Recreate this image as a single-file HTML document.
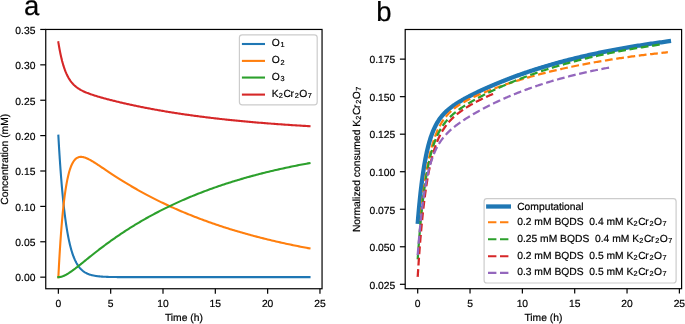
<!DOCTYPE html>
<html><head><meta charset="utf-8"><style>
html,body{margin:0;padding:0;background:#fff;width:685px;height:324px;overflow:hidden}
svg{display:block;will-change:transform}
text{font-family:"Liberation Sans", sans-serif;fill:#000;text-rendering:geometricPrecision;stroke:#000;stroke-width:0.2px}
</style></head><body>
<svg width="685" height="324" viewBox="0 0 685 324">
<rect width="685" height="324" fill="#fff"/>

<text x="24.1" y="15.1" font-size="27.5">a</text>
<text x="376.2" y="21" font-size="27.5">b</text>
<g fill="none" stroke-width="2.1" stroke-linejoin="round" stroke-linecap="square">
<polyline stroke="#1f77b4" points="58.36,135.61 58.37,135.77 58.39,136.16 58.42,136.74 58.47,137.50 58.52,138.43 58.58,139.51 58.65,140.73 58.73,142.09 58.82,143.58 58.91,145.19 59.01,146.91 59.12,148.73 59.24,150.65 59.37,152.66 59.50,154.76 59.64,156.93 59.79,159.17 59.95,161.47 60.11,163.84 60.28,166.25 60.45,168.70 60.64,171.20 60.83,173.72 61.02,176.27 61.23,178.84 61.44,181.43 61.65,184.03 61.88,186.63 62.10,189.23 62.34,191.82 62.58,194.41 62.83,196.98 63.09,199.53 63.35,202.06 63.61,204.57 63.89,207.05 64.17,209.50 64.45,211.91 64.74,214.28 65.04,216.62 65.34,218.91 65.65,221.16 65.97,223.36 66.29,225.51 66.62,227.62 66.95,229.67 67.29,231.68 67.64,233.63 67.99,235.53 68.34,237.37 68.70,239.16 69.07,240.90 69.45,242.58 69.83,244.21 70.21,245.78 70.60,247.30 71.00,248.77 71.40,250.18 71.81,251.55 72.22,252.86 72.64,254.12 73.06,255.33 73.49,256.49 73.93,257.60 74.37,258.66 74.81,259.68 75.27,260.66 75.72,261.59 76.18,262.48 76.65,263.33 77.13,264.13 77.60,264.90 78.09,265.63 78.58,266.33 79.07,266.99 79.57,267.61 80.08,268.21 80.59,268.77 81.10,269.30 81.62,269.81 82.15,270.28 82.68,270.73 83.22,271.15 83.76,271.55 84.30,271.93 84.86,272.29 85.41,272.62 85.98,272.93 86.54,273.23 87.12,273.50 87.69,273.76 88.28,274.00 88.86,274.23 89.46,274.44 90.06,274.64 90.66,274.83 91.27,275.00 91.88,275.16 92.50,275.31 93.12,275.46 93.75,275.59 94.38,275.71 95.02,275.82 95.66,275.93 96.31,276.02 96.96,276.11 97.62,276.20 98.29,276.28 98.95,276.35 99.63,276.41 100.30,276.48 100.99,276.53 101.67,276.59 102.37,276.63 103.06,276.68 103.77,276.72 104.47,276.76 105.19,276.79 105.90,276.82 106.62,276.85 107.35,276.88 108.08,276.91 108.82,276.93 109.56,276.95 110.30,276.97 111.05,276.99 111.81,277.00 112.57,277.02 113.33,277.03 114.10,277.04 114.88,277.05 115.66,277.06 116.44,277.07 117.23,277.08 118.02,277.09 118.82,277.10 119.62,277.10 120.43,277.11 121.24,277.11 122.06,277.12 122.88,277.12 123.70,277.13 124.54,277.13 125.37,277.13 126.21,277.13 127.06,277.14 127.90,277.14 128.76,277.14 129.62,277.14 130.48,277.15 131.35,277.15 132.22,277.15 133.10,277.15 133.98,277.15 134.86,277.15 135.76,277.15 136.65,277.15 137.55,277.15 138.46,277.15 139.36,277.16 140.28,277.16 141.20,277.16 142.12,277.16 143.05,277.16 143.98,277.16 144.91,277.16 145.85,277.16 146.80,277.16 147.75,277.16 148.70,277.16 149.66,277.16 150.63,277.16 151.59,277.16 152.57,277.16 153.54,277.16 154.52,277.16 155.51,277.16 156.50,277.16 157.49,277.16 158.49,277.16 159.50,277.16 160.51,277.16 161.52,277.16 162.53,277.16 163.56,277.16 164.58,277.16 165.61,277.16 166.65,277.16 167.69,277.16 168.73,277.16 169.78,277.16 170.83,277.16 171.89,277.16 172.95,277.16 174.01,277.16 175.08,277.16 176.16,277.16 177.23,277.16 178.32,277.16 179.40,277.16 180.50,277.16 181.59,277.16 182.69,277.16 183.80,277.16 184.91,277.16 186.02,277.16 187.14,277.16 188.26,277.16 189.38,277.16 190.52,277.16 191.65,277.16 192.79,277.16 193.93,277.16 195.08,277.16 196.23,277.16 197.39,277.16 198.55,277.16 199.72,277.16 200.88,277.16 202.06,277.16 203.24,277.16 204.42,277.16 205.60,277.16 206.80,277.16 207.99,277.16 209.19,277.16 210.39,277.16 211.60,277.16 212.81,277.16 214.03,277.16 215.25,277.16 216.47,277.16 217.70,277.16 218.94,277.16 220.17,277.16 221.41,277.16 222.66,277.16 223.91,277.16 225.16,277.16 226.42,277.16 227.69,277.16 228.95,277.16 230.22,277.16 231.50,277.16 232.78,277.16 234.06,277.16 235.35,277.16 236.64,277.16 237.94,277.16 239.24,277.16 240.54,277.16 241.85,277.16 243.16,277.16 244.48,277.16 245.80,277.16 247.13,277.16 248.45,277.16 249.79,277.16 251.13,277.16 252.47,277.16 253.81,277.16 255.16,277.16 256.52,277.16 257.88,277.16 259.24,277.16 260.60,277.16 261.98,277.16 263.35,277.16 264.73,277.16 266.11,277.16 267.50,277.16 268.89,277.16 270.29,277.16 271.68,277.16 273.09,277.16 274.50,277.16 275.91,277.16 277.32,277.16 278.74,277.16 280.17,277.16 281.59,277.16 283.03,277.16 284.46,277.16 285.90,277.16 287.35,277.16 288.80,277.16 290.25,277.16 291.70,277.16 293.16,277.16 294.63,277.16 296.10,277.16 297.57,277.16 299.05,277.16 300.53,277.16 302.01,277.16 303.50,277.16 304.99,277.16 306.49,277.16 307.99,277.16 309.50,277.16"/>
<polyline stroke="#ff7f0e" points="58.36,277.16 58.37,276.99 58.39,276.55 58.42,275.90 58.47,275.06 58.52,274.03 58.58,272.83 58.65,271.48 58.73,269.97 58.82,268.33 58.91,266.57 59.01,264.68 59.12,262.68 59.24,260.58 59.37,258.39 59.50,256.12 59.64,253.77 59.79,251.35 59.95,248.88 60.11,246.35 60.28,243.79 60.45,241.18 60.64,238.55 60.83,235.90 61.02,233.23 61.23,230.56 61.44,227.88 61.65,225.21 61.88,222.55 62.10,219.91 62.34,217.30 62.58,214.70 62.83,212.14 63.09,209.62 63.35,207.14 63.61,204.70 63.89,202.31 64.17,199.97 64.45,197.69 64.74,195.46 65.04,193.29 65.34,191.18 65.65,189.13 65.97,187.15 66.29,185.24 66.62,183.39 66.95,181.61 67.29,179.89 67.64,178.25 67.99,176.67 68.34,175.16 68.70,173.72 69.07,172.35 69.45,171.04 69.83,169.81 70.21,168.63 70.60,167.53 71.00,166.49 71.40,165.51 71.81,164.59 72.22,163.73 72.64,162.93 73.06,162.19 73.49,161.50 73.93,160.87 74.37,160.30 74.81,159.77 75.27,159.29 75.72,158.86 76.18,158.48 76.65,158.15 77.13,157.85 77.60,157.60 78.09,157.39 78.58,157.21 79.07,157.08 79.57,156.97 80.08,156.90 80.59,156.87 81.10,156.86 81.62,156.89 82.15,156.94 82.68,157.02 83.22,157.12 83.76,157.25 84.30,157.40 84.86,157.58 85.41,157.77 85.98,157.98 86.54,158.21 87.12,158.46 87.69,158.73 88.28,159.01 88.86,159.31 89.46,159.61 90.06,159.94 90.66,160.27 91.27,160.62 91.88,160.98 92.50,161.35 93.12,161.72 93.75,162.11 94.38,162.51 95.02,162.91 95.66,163.32 96.31,163.74 96.96,164.16 97.62,164.59 98.29,165.03 98.95,165.47 99.63,165.92 100.30,166.37 100.99,166.83 101.67,167.29 102.37,167.75 103.06,168.22 103.77,168.69 104.47,169.17 105.19,169.65 105.90,170.13 106.62,170.61 107.35,171.09 108.08,171.58 108.82,172.07 109.56,172.56 110.30,173.06 111.05,173.55 111.81,174.05 112.57,174.55 113.33,175.05 114.10,175.55 114.88,176.05 115.66,176.55 116.44,177.06 117.23,177.56 118.02,178.07 118.82,178.57 119.62,179.08 120.43,179.59 121.24,180.10 122.06,180.61 122.88,181.12 123.70,181.63 124.54,182.14 125.37,182.65 126.21,183.16 127.06,183.67 127.90,184.18 128.76,184.69 129.62,185.20 130.48,185.71 131.35,186.22 132.22,186.73 133.10,187.24 133.98,187.75 134.86,188.26 135.76,188.77 136.65,189.28 137.55,189.79 138.46,190.30 139.36,190.81 140.28,191.31 141.20,191.82 142.12,192.33 143.05,192.84 143.98,193.34 144.91,193.85 145.85,194.35 146.80,194.85 147.75,195.36 148.70,195.86 149.66,196.36 150.63,196.86 151.59,197.36 152.57,197.86 153.54,198.36 154.52,198.86 155.51,199.36 156.50,199.85 157.49,200.35 158.49,200.84 159.50,201.34 160.51,201.83 161.52,202.32 162.53,202.81 163.56,203.30 164.58,203.78 165.61,204.27 166.65,204.76 167.69,205.24 168.73,205.72 169.78,206.21 170.83,206.69 171.89,207.17 172.95,207.64 174.01,208.12 175.08,208.60 176.16,209.07 177.23,209.54 178.32,210.01 179.40,210.48 180.50,210.95 181.59,211.42 182.69,211.88 183.80,212.35 184.91,212.81 186.02,213.27 187.14,213.73 188.26,214.19 189.38,214.65 190.52,215.10 191.65,215.55 192.79,216.01 193.93,216.46 195.08,216.90 196.23,217.35 197.39,217.80 198.55,218.24 199.72,218.68 200.88,219.12 202.06,219.56 203.24,220.00 204.42,220.43 205.60,220.86 206.80,221.30 207.99,221.72 209.19,222.15 210.39,222.58 211.60,223.00 212.81,223.42 214.03,223.85 215.25,224.26 216.47,224.68 217.70,225.10 218.94,225.51 220.17,225.92 221.41,226.33 222.66,226.74 223.91,227.14 225.16,227.55 226.42,227.95 227.69,228.35 228.95,228.74 230.22,229.14 231.50,229.53 232.78,229.93 234.06,230.32 235.35,230.70 236.64,231.09 237.94,231.47 239.24,231.86 240.54,232.24 241.85,232.61 243.16,232.99 244.48,233.36 245.80,233.74 247.13,234.11 248.45,234.47 249.79,234.84 251.13,235.20 252.47,235.57 253.81,235.93 255.16,236.28 256.52,236.64 257.88,236.99 259.24,237.35 260.60,237.70 261.98,238.04 263.35,238.39 264.73,238.73 266.11,239.08 267.50,239.42 268.89,239.75 270.29,240.09 271.68,240.42 273.09,240.75 274.50,241.08 275.91,241.41 277.32,241.74 278.74,242.06 280.17,242.38 281.59,242.70 283.03,243.02 284.46,243.33 285.90,243.65 287.35,243.96 288.80,244.27 290.25,244.57 291.70,244.88 293.16,245.18 294.63,245.48 296.10,245.78 297.57,246.08 299.05,246.37 300.53,246.67 302.01,246.96 303.50,247.25 304.99,247.53 306.49,247.82 307.99,248.10 309.50,248.38"/>
<polyline stroke="#2ca02c" points="58.36,277.16 58.37,277.16 58.39,277.16 58.42,277.16 58.47,277.16 58.52,277.16 58.58,277.16 58.65,277.16 58.73,277.15 58.82,277.15 58.91,277.14 59.01,277.14 59.12,277.13 59.24,277.12 59.37,277.11 59.50,277.09 59.64,277.07 59.79,277.05 59.95,277.03 60.11,277.00 60.28,276.97 60.45,276.94 60.64,276.90 60.83,276.86 61.02,276.81 61.23,276.76 61.44,276.70 61.65,276.64 61.88,276.57 62.10,276.50 62.34,276.42 62.58,276.33 62.83,276.24 63.09,276.14 63.35,276.04 63.61,275.93 63.89,275.81 64.17,275.69 64.45,275.55 64.74,275.42 65.04,275.27 65.34,275.12 65.65,274.95 65.97,274.79 66.29,274.61 66.62,274.43 66.95,274.23 67.29,274.04 67.64,273.83 67.99,273.62 68.34,273.39 68.70,273.16 69.07,272.93 69.45,272.68 69.83,272.43 70.21,272.17 70.60,271.90 71.00,271.63 71.40,271.35 71.81,271.06 72.22,270.76 72.64,270.46 73.06,270.15 73.49,269.83 73.93,269.51 74.37,269.18 74.81,268.84 75.27,268.50 75.72,268.15 76.18,267.79 76.65,267.43 77.13,267.06 77.60,266.68 78.09,266.30 78.58,265.92 79.07,265.52 79.57,265.13 80.08,264.72 80.59,264.32 81.10,263.90 81.62,263.48 82.15,263.06 82.68,262.63 83.22,262.20 83.76,261.76 84.30,261.32 84.86,260.88 85.41,260.43 85.98,259.97 86.54,259.52 87.12,259.05 87.69,258.59 88.28,258.12 88.86,257.65 89.46,257.17 90.06,256.69 90.66,256.21 91.27,255.73 91.88,255.24 92.50,254.75 93.12,254.25 93.75,253.76 94.38,253.26 95.02,252.76 95.66,252.25 96.31,251.75 96.96,251.24 97.62,250.73 98.29,250.21 98.95,249.70 99.63,249.18 100.30,248.66 100.99,248.14 101.67,247.62 102.37,247.10 103.06,246.57 103.77,246.05 104.47,245.52 105.19,244.99 105.90,244.46 106.62,243.93 107.35,243.40 108.08,242.86 108.82,242.33 109.56,241.79 110.30,241.25 111.05,240.72 111.81,240.18 112.57,239.64 113.33,239.10 114.10,238.56 114.88,238.02 115.66,237.48 116.44,236.93 117.23,236.39 118.02,235.85 118.82,235.30 119.62,234.76 120.43,234.22 121.24,233.67 122.06,233.13 122.88,232.58 123.70,232.04 124.54,231.50 125.37,230.95 126.21,230.41 127.06,229.86 127.90,229.32 128.76,228.78 129.62,228.23 130.48,227.69 131.35,227.15 132.22,226.60 133.10,226.06 133.98,225.52 134.86,224.98 135.76,224.44 136.65,223.90 137.55,223.36 138.46,222.82 139.36,222.28 140.28,221.74 141.20,221.21 142.12,220.67 143.05,220.14 143.98,219.60 144.91,219.07 145.85,218.53 146.80,218.00 147.75,217.47 148.70,216.94 149.66,216.41 150.63,215.88 151.59,215.36 152.57,214.83 153.54,214.31 154.52,213.78 155.51,213.26 156.50,212.74 157.49,212.22 158.49,211.70 159.50,211.18 160.51,210.66 161.52,210.15 162.53,209.64 163.56,209.12 164.58,208.61 165.61,208.10 166.65,207.59 167.69,207.09 168.73,206.58 169.78,206.08 170.83,205.58 171.89,205.08 172.95,204.58 174.01,204.08 175.08,203.58 176.16,203.09 177.23,202.60 178.32,202.11 179.40,201.62 180.50,201.13 181.59,200.65 182.69,200.16 183.80,199.68 184.91,199.20 186.02,198.72 187.14,198.24 188.26,197.77 189.38,197.30 190.52,196.82 191.65,196.35 192.79,195.89 193.93,195.42 195.08,194.96 196.23,194.50 197.39,194.04 198.55,193.58 199.72,193.12 200.88,192.67 202.06,192.22 203.24,191.77 204.42,191.32 205.60,190.87 206.80,190.43 207.99,189.99 209.19,189.55 210.39,189.11 211.60,188.68 212.81,188.24 214.03,187.81 215.25,187.38 216.47,186.95 217.70,186.53 218.94,186.11 220.17,185.69 221.41,185.27 222.66,184.85 223.91,184.44 225.16,184.02 226.42,183.62 227.69,183.21 228.95,182.80 230.22,182.40 231.50,182.00 232.78,181.60 234.06,181.20 235.35,180.81 236.64,180.42 237.94,180.03 239.24,179.64 240.54,179.25 241.85,178.87 243.16,178.49 244.48,178.11 245.80,177.73 247.13,177.36 248.45,176.99 249.79,176.62 251.13,176.25 252.47,175.88 253.81,175.52 255.16,175.16 256.52,174.80 257.88,174.45 259.24,174.09 260.60,173.74 261.98,173.39 263.35,173.04 264.73,172.70 266.11,172.35 267.50,172.01 268.89,171.68 270.29,171.34 271.68,171.01 273.09,170.67 274.50,170.34 275.91,170.02 277.32,169.69 278.74,169.37 280.17,169.05 281.59,168.73 283.03,168.41 284.46,168.10 285.90,167.79 287.35,167.48 288.80,167.17 290.25,166.87 291.70,166.57 293.16,166.26 294.63,165.97 296.10,165.67 297.57,165.38 299.05,165.08 300.53,164.79 302.01,164.51 303.50,164.22 304.99,163.94 306.49,163.66 307.99,163.38 309.50,163.10"/>
<polyline stroke="#d62728" points="58.36,42.29 58.37,42.34 58.39,42.48 58.42,42.68 58.47,42.95 58.52,43.28 58.58,43.65 58.65,44.08 58.73,44.56 58.82,45.08 58.91,45.64 59.01,46.24 59.12,46.88 59.24,47.55 59.37,48.26 59.50,48.99 59.64,49.74 59.79,50.52 59.95,51.32 60.11,52.14 60.28,52.98 60.45,53.83 60.64,54.70 60.83,55.57 61.02,56.45 61.23,57.34 61.44,58.23 61.65,59.13 61.88,60.02 62.10,60.92 62.34,61.81 62.58,62.70 62.83,63.58 63.09,64.46 63.35,65.33 63.61,66.19 63.89,67.04 64.17,67.88 64.45,68.71 64.74,69.52 65.04,70.32 65.34,71.11 65.65,71.89 65.97,72.64 66.29,73.39 66.62,74.11 66.95,74.83 67.29,75.52 67.64,76.20 67.99,76.86 68.34,77.51 68.70,78.14 69.07,78.75 69.45,79.35 69.83,79.93 70.21,80.49 70.60,81.04 71.00,81.57 71.40,82.09 71.81,82.59 72.22,83.08 72.64,83.56 73.06,84.02 73.49,84.46 73.93,84.90 74.37,85.32 74.81,85.72 75.27,86.12 75.72,86.50 76.18,86.88 76.65,87.24 77.13,87.59 77.60,87.94 78.09,88.27 78.58,88.59 79.07,88.91 79.57,89.22 80.08,89.52 80.59,89.81 81.10,90.10 81.62,90.38 82.15,90.65 82.68,90.92 83.22,91.18 83.76,91.43 84.30,91.68 84.86,91.93 85.41,92.17 85.98,92.41 86.54,92.65 87.12,92.88 87.69,93.10 88.28,93.33 88.86,93.55 89.46,93.77 90.06,93.99 90.66,94.20 91.27,94.41 91.88,94.62 92.50,94.83 93.12,95.04 93.75,95.24 94.38,95.44 95.02,95.65 95.66,95.85 96.31,96.05 96.96,96.25 97.62,96.45 98.29,96.64 98.95,96.84 99.63,97.04 100.30,97.23 100.99,97.43 101.67,97.62 102.37,97.82 103.06,98.01 103.77,98.20 104.47,98.40 105.19,98.59 105.90,98.78 106.62,98.98 107.35,99.17 108.08,99.36 108.82,99.55 109.56,99.74 110.30,99.94 111.05,100.13 111.81,100.32 112.57,100.51 113.33,100.70 114.10,100.89 114.88,101.09 115.66,101.28 116.44,101.47 117.23,101.66 118.02,101.85 118.82,102.04 119.62,102.23 120.43,102.42 121.24,102.61 122.06,102.80 122.88,102.99 123.70,103.18 124.54,103.37 125.37,103.56 126.21,103.75 127.06,103.94 127.90,104.13 128.76,104.32 129.62,104.51 130.48,104.70 131.35,104.88 132.22,105.07 133.10,105.26 133.98,105.45 134.86,105.64 135.76,105.82 136.65,106.01 137.55,106.20 138.46,106.38 139.36,106.57 140.28,106.75 141.20,106.94 142.12,107.12 143.05,107.31 143.98,107.49 144.91,107.67 145.85,107.86 146.80,108.04 147.75,108.22 148.70,108.40 149.66,108.59 150.63,108.77 151.59,108.95 152.57,109.13 153.54,109.31 154.52,109.49 155.51,109.66 156.50,109.84 157.49,110.02 158.49,110.20 159.50,110.37 160.51,110.55 161.52,110.72 162.53,110.90 163.56,111.07 164.58,111.25 165.61,111.42 166.65,111.59 167.69,111.76 168.73,111.94 169.78,112.11 170.83,112.28 171.89,112.45 172.95,112.61 174.01,112.78 175.08,112.95 176.16,113.12 177.23,113.28 178.32,113.45 179.40,113.61 180.50,113.78 181.59,113.94 182.69,114.10 183.80,114.27 184.91,114.43 186.02,114.59 187.14,114.75 188.26,114.91 189.38,115.06 190.52,115.22 191.65,115.38 192.79,115.54 193.93,115.69 195.08,115.85 196.23,116.00 197.39,116.15 198.55,116.31 199.72,116.46 200.88,116.61 202.06,116.76 203.24,116.91 204.42,117.06 205.60,117.21 206.80,117.35 207.99,117.50 209.19,117.64 210.39,117.79 211.60,117.93 212.81,118.08 214.03,118.22 215.25,118.36 216.47,118.50 217.70,118.64 218.94,118.78 220.17,118.92 221.41,119.06 222.66,119.19 223.91,119.33 225.16,119.46 226.42,119.60 227.69,119.73 228.95,119.87 230.22,120.00 231.50,120.13 232.78,120.26 234.06,120.39 235.35,120.52 236.64,120.64 237.94,120.77 239.24,120.90 240.54,121.02 241.85,121.15 243.16,121.27 244.48,121.39 245.80,121.52 247.13,121.64 248.45,121.76 249.79,121.88 251.13,122.00 252.47,122.11 253.81,122.23 255.16,122.35 256.52,122.46 257.88,122.58 259.24,122.69 260.60,122.81 261.98,122.92 263.35,123.03 264.73,123.14 266.11,123.25 267.50,123.36 268.89,123.47 270.29,123.57 271.68,123.68 273.09,123.79 274.50,123.89 275.91,124.00 277.32,124.10 278.74,124.20 280.17,124.30 281.59,124.41 283.03,124.51 284.46,124.61 285.90,124.70 287.35,124.80 288.80,124.90 290.25,125.00 291.70,125.09 293.16,125.19 294.63,125.28 296.10,125.37 297.57,125.47 299.05,125.56 300.53,125.65 302.01,125.74 303.50,125.83 304.99,125.92 306.49,126.01 307.99,126.09 309.50,126.18"/>
</g>
<rect x="45.75" y="29.45" width="276.30" height="259.30" fill="none" stroke="#000" stroke-width="1.2"/>
<line x1="58.36" y1="288.75" x2="58.36" y2="293.65" stroke="#000" stroke-width="1.2"/>
<text x="58.36" y="306.6" font-size="10.3" text-anchor="middle">0</text>
<line x1="110.68" y1="288.75" x2="110.68" y2="293.65" stroke="#000" stroke-width="1.2"/>
<text x="110.68" y="306.6" font-size="10.3" text-anchor="middle">5</text>
<line x1="163.00" y1="288.75" x2="163.00" y2="293.65" stroke="#000" stroke-width="1.2"/>
<text x="163.00" y="306.6" font-size="10.3" text-anchor="middle">10</text>
<line x1="215.32" y1="288.75" x2="215.32" y2="293.65" stroke="#000" stroke-width="1.2"/>
<text x="215.32" y="306.6" font-size="10.3" text-anchor="middle">15</text>
<line x1="267.64" y1="288.75" x2="267.64" y2="293.65" stroke="#000" stroke-width="1.2"/>
<text x="267.64" y="306.6" font-size="10.3" text-anchor="middle">20</text>
<line x1="319.96" y1="288.75" x2="319.96" y2="293.65" stroke="#000" stroke-width="1.2"/>
<text x="319.96" y="306.6" font-size="10.3" text-anchor="middle">25</text>
<line x1="40.25" y1="277.16" x2="45.75" y2="277.16" stroke="#000" stroke-width="1.2"/>
<text x="35.4" y="281" font-size="10.3" text-anchor="end">0.00</text>
<line x1="40.25" y1="241.77" x2="45.75" y2="241.77" stroke="#000" stroke-width="1.2"/>
<text x="35.4" y="246" font-size="10.3" text-anchor="end">0.05</text>
<line x1="40.25" y1="206.39" x2="45.75" y2="206.39" stroke="#000" stroke-width="1.2"/>
<text x="35.4" y="211" font-size="10.3" text-anchor="end">0.10</text>
<line x1="40.25" y1="171.00" x2="45.75" y2="171.00" stroke="#000" stroke-width="1.2"/>
<text x="35.4" y="175" font-size="10.3" text-anchor="end">0.15</text>
<line x1="40.25" y1="135.61" x2="45.75" y2="135.61" stroke="#000" stroke-width="1.2"/>
<text x="35.4" y="140" font-size="10.3" text-anchor="end">0.20</text>
<line x1="40.25" y1="100.23" x2="45.75" y2="100.23" stroke="#000" stroke-width="1.2"/>
<text x="35.4" y="105" font-size="10.3" text-anchor="end">0.25</text>
<line x1="40.25" y1="64.84" x2="45.75" y2="64.84" stroke="#000" stroke-width="1.2"/>
<text x="35.4" y="69" font-size="10.3" text-anchor="end">0.30</text>
<line x1="40.25" y1="29.45" x2="45.75" y2="29.45" stroke="#000" stroke-width="1.2"/>
<text x="35.4" y="34" font-size="10.3" text-anchor="end">0.35</text>
<text x="183.90" y="321.4" font-size="10.3" text-anchor="middle">Time (h)</text>
<text transform="translate(7.6,159.3) rotate(-90)" font-size="10.3" text-anchor="middle">Concentration (mM)</text>
<rect x="239.4" y="34.8" width="77.8" height="70" rx="2.8" fill="#fff" fill-opacity="0.8" stroke="#cccccc" stroke-width="1.2"/>
<line x1="241.9" y1="44.0" x2="265.0" y2="44.0" stroke="#1f77b4" stroke-width="2.1"/>
<line x1="241.9" y1="60.9" x2="265.0" y2="60.9" stroke="#ff7f0e" stroke-width="2.1"/>
<line x1="241.9" y1="77.55" x2="265.0" y2="77.55" stroke="#2ca02c" stroke-width="2.1"/>
<line x1="241.9" y1="94.6" x2="265.0" y2="94.6" stroke="#d62728" stroke-width="2.1"/>
<text font-size="10.3"><tspan x="271.80" y="46.00">O</tspan><tspan x="280.50" y="47.40" font-size="7.3">1</tspan></text>
<text font-size="10.3"><tspan x="271.80" y="63.00">O</tspan><tspan x="280.50" y="64.60" font-size="7.3">2</tspan></text>
<text font-size="10.3"><tspan x="271.80" y="80.00">O</tspan><tspan x="280.50" y="81.30" font-size="7.3">3</tspan></text>
<text font-size="10.3"><tspan x="271.80" y="97.00">K</tspan><tspan x="278.78" y="98.40" font-size="7.3">2</tspan><tspan x="283.58" y="97.00">C</tspan><tspan x="290.62" y="97.00">r</tspan><tspan x="294.73" y="98.40" font-size="7.3">2</tspan><tspan x="299.31" y="97.00">O</tspan><tspan x="307.87" y="98.40" font-size="7.3">7</tspan></text>
<polyline fill="none" stroke="#1f77b4" stroke-width="4.3" stroke-linejoin="round" stroke-linecap="square" points="417.85,221.78 417.86,221.67 417.88,221.40 417.91,221.00 417.95,220.47 418.00,219.83 418.07,219.09 418.14,218.24 418.22,217.30 418.30,216.27 418.40,215.16 418.50,213.96 418.61,212.70 418.73,211.36 418.86,209.96 418.99,208.50 419.13,206.98 419.28,205.41 419.43,203.80 419.60,202.14 419.76,200.44 419.94,198.71 420.12,196.95 420.31,195.16 420.51,193.34 420.71,191.51 420.92,189.67 421.14,187.81 421.36,185.94 421.59,184.07 421.83,182.19 422.07,180.32 422.32,178.45 422.57,176.58 422.83,174.72 423.10,172.88 423.37,171.05 423.65,169.23 423.94,167.43 424.23,165.65 424.52,163.89 424.83,162.16 425.14,160.45 425.45,158.76 425.77,157.10 426.10,155.47 426.44,153.86 426.77,152.29 427.12,150.74 427.47,149.23 427.83,147.75 428.19,146.30 428.56,144.88 428.93,143.49 429.31,142.14 429.69,140.81 430.08,139.52 430.48,138.26 430.88,137.04 431.29,135.84 431.70,134.68 432.12,133.54 432.54,132.44 432.97,131.36 433.41,130.32 433.85,129.30 434.30,128.31 434.75,127.35 435.20,126.41 435.67,125.51 436.13,124.62 436.61,123.76 437.08,122.93 437.57,122.11 438.06,121.32 438.55,120.55 439.05,119.80 439.56,119.08 440.07,118.37 440.58,117.68 441.10,117.00 441.63,116.35 442.16,115.71 442.70,115.08 443.24,114.47 443.78,113.88 444.34,113.30 444.89,112.73 445.45,112.17 446.02,111.62 446.59,111.09 447.17,110.57 447.75,110.05 448.34,109.55 448.93,109.05 449.53,108.56 450.14,108.08 450.74,107.61 451.36,107.14 451.97,106.68 452.60,106.23 453.23,105.78 453.86,105.34 454.50,104.90 455.14,104.47 455.79,104.04 456.44,103.62 457.10,103.20 457.76,102.78 458.43,102.37 459.10,101.95 459.78,101.55 460.46,101.14 461.15,100.74 461.84,100.34 462.54,99.94 463.24,99.54 463.95,99.14 464.66,98.75 465.37,98.35 466.10,97.96 466.82,97.57 467.55,97.18 468.29,96.79 469.03,96.41 469.77,96.02 470.52,95.63 471.28,95.25 472.04,94.86 472.80,94.48 473.57,94.09 474.35,93.71 475.13,93.33 475.91,92.95 476.70,92.56 477.49,92.18 478.29,91.80 479.09,91.42 479.90,91.04 480.71,90.66 481.52,90.28 482.35,89.90 483.17,89.52 484.00,89.14 484.84,88.76 485.68,88.38 486.52,88.00 487.37,87.63 488.22,87.25 489.08,86.87 489.95,86.49 490.81,86.12 491.68,85.74 492.56,85.36 493.44,84.99 494.33,84.61 495.22,84.24 496.11,83.86 497.01,83.49 497.92,83.11 498.83,82.74 499.74,82.37 500.66,81.99 501.58,81.62 502.51,81.25 503.44,80.88 504.37,80.51 505.31,80.14 506.26,79.77 507.21,79.40 508.16,79.03 509.12,78.67 510.09,78.30 511.05,77.93 512.02,77.57 513.00,77.20 513.98,76.84 514.97,76.48 515.96,76.11 516.95,75.75 517.95,75.39 518.95,75.03 519.96,74.67 520.97,74.32 521.99,73.96 523.01,73.60 524.04,73.25 525.07,72.89 526.10,72.54 527.14,72.19 528.18,71.83 529.23,71.48 530.28,71.13 531.34,70.79 532.40,70.44 533.46,70.09 534.53,69.75 535.61,69.40 536.69,69.06 537.77,68.72 538.86,68.37 539.95,68.03 541.04,67.70 542.14,67.36 543.25,67.02 544.35,66.69 545.47,66.35 546.59,66.02 547.71,65.69 548.83,65.36 549.96,65.03 551.10,64.70 552.24,64.37 553.38,64.05 554.53,63.72 555.68,63.40 556.83,63.08 558.00,62.76 559.16,62.44 560.33,62.12 561.50,61.81 562.68,61.49 563.86,61.18 565.05,60.87 566.24,60.56 567.43,60.25 568.63,59.94 569.83,59.63 571.04,59.33 572.25,59.02 573.47,58.72 574.69,58.42 575.91,58.12 577.14,57.82 578.37,57.52 579.61,57.23 580.85,56.94 582.10,56.64 583.35,56.35 584.60,56.06 585.86,55.77 587.12,55.49 588.39,55.20 589.66,54.92 590.93,54.64 592.21,54.36 593.50,54.08 594.78,53.80 596.07,53.52 597.37,53.25 598.67,52.98 599.97,52.71 601.28,52.44 602.59,52.17 603.91,51.90 605.23,51.63 606.56,51.37 607.88,51.11 609.22,50.85 610.56,50.59 611.90,50.33 613.24,50.07 614.59,49.82 615.95,49.57 617.30,49.31 618.67,49.06 620.03,48.82 621.40,48.57 622.78,48.32 624.15,48.08 625.54,47.84 626.92,47.60 628.31,47.36 629.71,47.12 631.11,46.88 632.51,46.65 633.92,46.41 635.33,46.18 636.74,45.95 638.16,45.72 639.59,45.50 641.02,45.27 642.45,45.05 643.88,44.82 645.32,44.60 646.77,44.38 648.21,44.16 649.67,43.95 651.12,43.73 652.58,43.52 654.05,43.31 655.51,43.10 656.99,42.89 658.46,42.68 659.94,42.47 661.43,42.27 662.91,42.07 664.41,41.87 665.90,41.66 667.40,41.47 668.91,41.27"/>
<g fill="none" stroke-width="2.25" stroke-dasharray="7.8,3.6" stroke-linejoin="round">
<polyline stroke="#ff7f0e" points="420.84,214.98 420.85,214.90 420.87,214.68 420.90,214.36 420.94,213.94 421.00,213.43 421.06,212.84 421.13,212.16 421.20,211.40 421.29,210.58 421.38,209.68 421.48,208.72 421.59,207.70 421.71,206.62 421.83,205.48 421.96,204.29 422.10,203.05 422.25,201.77 422.40,200.44 422.56,199.08 422.73,197.67 422.90,196.24 423.08,194.77 423.27,193.28 423.46,191.76 423.66,190.22 423.87,188.66 424.08,187.08 424.30,185.49 424.52,183.88 424.76,182.27 424.99,180.65 425.24,179.03 425.49,177.40 425.74,175.77 426.01,174.15 426.28,172.53 426.55,170.91 426.83,169.30 427.12,167.70 427.41,166.11 427.71,164.53 428.01,162.96 428.32,161.41 428.64,159.88 428.96,158.36 429.29,156.86 429.62,155.38 429.96,153.92 430.31,152.48 430.66,151.06 431.02,149.66 431.38,148.28 431.74,146.93 432.12,145.61 432.50,144.30 432.88,143.02 433.27,141.77 433.67,140.54 434.07,139.33 434.47,138.15 434.88,136.99 435.30,135.86 435.72,134.75 436.15,133.67 436.59,132.61 437.02,131.58 437.47,130.57 437.92,129.58 438.37,128.62 438.83,127.68 439.30,126.76 439.77,125.87 440.24,124.99 440.73,124.14 441.21,123.31 441.70,122.50 442.20,121.71 442.70,120.94 443.21,120.18 443.72,119.45 444.24,118.73 444.76,118.03 445.29,117.35 445.82,116.69 446.36,116.04 446.90,115.40 447.45,114.78 448.00,114.17 448.56,113.58 449.12,113.00 449.69,112.44 450.27,111.88 450.84,111.34 451.43,110.81 452.02,110.29 452.61,109.78 453.21,109.28 453.81,108.79 454.42,108.31 455.03,107.83 455.65,107.37 456.27,106.91 456.90,106.46 457.53,106.02 458.17,105.59 458.81,105.16 459.46,104.74 460.11,104.32 460.77,103.91 461.43,103.50 462.10,103.10 462.77,102.70 463.44,102.31 464.13,101.93 464.81,101.54 465.50,101.16 466.20,100.78 466.90,100.41 467.60,100.04 468.31,99.68 469.03,99.31 469.75,98.95 470.47,98.59 471.20,98.23 471.93,97.88 472.67,97.53 473.41,97.18 474.16,96.83 474.91,96.48 475.67,96.14 476.43,95.79 477.20,95.45 477.97,95.11 478.74,94.77 479.52,94.43 480.31,94.10 481.10,93.76 481.89,93.43 482.69,93.09 483.49,92.76 484.30,92.43 485.11,92.10 485.93,91.77 486.75,91.44 487.58,91.11 488.41,90.78 489.24,90.45 490.08,90.13 490.93,89.80 491.78,89.48 492.63,89.15 493.49,88.83 494.35,88.51 495.22,88.19 496.09,87.87 496.97,87.55 497.85,87.23 498.73,86.91 499.62,86.59 500.52,86.27 501.42,85.95 502.32,85.64 503.23,85.32 504.14,85.01 505.05,84.69 505.98,84.38 506.90,84.06 507.83,83.75 508.77,83.44 509.70,83.13 510.65,82.82 511.59,82.51 512.55,82.20 513.50,81.89 514.46,81.59 515.43,81.28 516.40,80.98 517.37,80.67 518.35,80.37 519.33,80.06 520.32,79.76 521.31,79.46 522.31,79.16 523.31,78.86 524.31,78.56 525.32,78.27 526.33,77.97 527.35,77.67 528.37,77.38 529.40,77.09 530.43,76.79 531.47,76.50 532.51,76.21 533.55,75.92 534.60,75.63 535.65,75.34 536.71,75.06 537.77,74.77 538.83,74.49 539.90,74.20 540.97,73.92 542.05,73.64 543.14,73.36 544.22,73.08 545.31,72.80 546.41,72.53 547.51,72.25 548.61,71.98 549.72,71.70 550.83,71.43 551.95,71.16 553.07,70.89 554.19,70.62 555.32,70.35 556.45,70.09 557.59,69.82 558.73,69.56 559.88,69.30 561.03,69.03 562.18,68.77 563.34,68.51 564.51,68.26 565.67,68.00 566.84,67.75 568.02,67.49 569.20,67.24 570.38,66.99 571.57,66.74 572.76,66.49 573.96,66.24 575.16,66.00 576.36,65.75 577.57,65.51 578.78,65.26 580.00,65.02 581.22,64.78 582.45,64.55 583.68,64.31 584.91,64.07 586.15,63.84 587.39,63.61 588.64,63.37 589.89,63.14 591.14,62.92 592.40,62.69 593.66,62.46 594.93,62.24 596.20,62.01 597.47,61.79 598.75,61.57 600.04,61.35 601.32,61.13 602.61,60.91 603.91,60.70 605.21,60.49 606.51,60.27 607.82,60.06 609.13,59.85 610.45,59.64 611.77,59.44 613.09,59.23 614.42,59.02 615.75,58.82 617.09,58.62 618.43,58.42 619.77,58.22 621.12,58.02 622.47,57.83 623.83,57.63 625.19,57.44 626.55,57.24 627.92,57.05 629.29,56.86 630.67,56.67 632.05,56.49 633.43,56.30 634.82,56.12 636.22,55.93 637.61,55.75 639.01,55.57 640.42,55.39 641.83,55.21 643.24,55.04 644.65,54.86 646.08,54.69 647.50,54.52 648.93,54.35 650.36,54.18 651.80,54.01 653.24,53.84 654.68,53.67 656.13,53.51 657.58,53.35 659.04,53.18 660.50,53.02 661.96,52.86 663.43,52.70 664.90,52.55 666.38,52.39 667.86,52.24"/>
<polyline stroke="#2ca02c" points="417.70,259.23 417.71,259.10 417.73,258.79 417.76,258.33 417.80,257.72 417.85,256.98 417.91,256.12 417.98,255.14 418.06,254.06 418.14,252.86 418.23,251.57 418.33,250.19 418.44,248.72 418.55,247.16 418.68,245.53 418.81,243.82 418.94,242.05 419.08,240.21 419.23,238.32 419.39,236.37 419.56,234.37 419.73,232.33 419.90,230.25 420.09,228.13 420.28,225.98 420.47,223.81 420.67,221.61 420.88,219.39 421.10,217.16 421.32,214.91 421.55,212.66 421.78,210.40 422.02,208.14 422.27,205.88 422.52,203.62 422.78,201.37 423.04,199.14 423.31,196.91 423.59,194.70 423.87,192.51 424.16,190.34 424.45,188.19 424.75,186.07 425.06,183.97 425.37,181.89 425.68,179.85 426.01,177.84 426.34,175.85 426.67,173.90 427.01,171.98 427.35,170.10 427.70,168.25 428.06,166.44 428.42,164.66 428.79,162.92 429.16,161.21 429.54,159.55 429.92,157.92 430.31,156.32 430.70,154.77 431.10,153.24 431.51,151.76 431.92,150.31 432.33,148.90 432.75,147.53 433.18,146.18 433.61,144.88 434.05,143.61 434.49,142.37 434.94,141.16 435.39,139.99 435.85,138.84 436.31,137.73 436.78,136.65 437.25,135.60 437.73,134.57 438.21,133.58 438.70,132.61 439.19,131.66 439.69,130.74 440.19,129.85 440.70,128.98 441.22,128.13 441.73,127.30 442.26,126.50 442.79,125.71 443.32,124.95 443.86,124.20 444.40,123.47 444.95,122.76 445.51,122.06 446.06,121.38 446.63,120.72 447.20,120.07 447.77,119.43 448.35,118.81 448.93,118.20 449.52,117.60 450.11,117.01 450.71,116.43 451.31,115.87 451.92,115.31 452.53,114.76 453.15,114.22 453.77,113.69 454.40,113.17 455.03,112.65 455.66,112.14 456.31,111.64 456.95,111.14 457.60,110.65 458.26,110.16 458.92,109.68 459.58,109.20 460.25,108.73 460.93,108.26 461.61,107.79 462.29,107.33 462.98,106.87 463.67,106.42 464.37,105.97 465.07,105.52 465.78,105.07 466.49,104.63 467.21,104.19 467.93,103.75 468.65,103.31 469.38,102.87 470.12,102.44 470.86,102.00 471.60,101.57 472.35,101.14 473.10,100.71 473.86,100.29 474.62,99.86 475.39,99.43 476.16,99.01 476.94,98.59 477.72,98.16 478.50,97.74 479.29,97.32 480.09,96.90 480.88,96.48 481.69,96.06 482.50,95.65 483.31,95.23 484.12,94.81 484.95,94.40 485.77,93.98 486.60,93.57 487.44,93.15 488.27,92.74 489.12,92.33 489.97,91.91 490.82,91.50 491.68,91.09 492.54,90.68 493.40,90.27 494.27,89.86 495.15,89.45 496.03,89.05 496.91,88.64 497.80,88.23 498.69,87.83 499.59,87.42 500.49,87.02 501.39,86.61 502.30,86.21 503.22,85.81 504.13,85.41 505.06,85.01 505.98,84.61 506.92,84.21 507.85,83.81 508.79,83.41 509.74,83.02 510.69,82.62 511.64,82.23 512.60,81.84 513.56,81.44 514.52,81.05 515.49,80.66 516.47,80.27 517.45,79.88 518.43,79.50 519.42,79.11 520.41,78.72 521.41,78.34 522.41,77.96 523.41,77.58 524.42,77.19 525.43,76.81 526.45,76.44 527.47,76.06 528.50,75.68 529.53,75.31 530.56,74.93 531.60,74.56 532.64,74.19 533.69,73.82 534.74,73.45 535.80,73.09 536.86,72.72 537.92,72.35 538.99,71.99 540.06,71.63 541.14,71.27 542.22,70.91 543.30,70.55 544.39,70.20 545.49,69.84 546.58,69.49 547.69,69.13 548.79,68.78 549.90,68.43 551.02,68.09 552.13,67.74 553.26,67.40 554.38,67.05 555.51,66.71 556.65,66.37 557.79,66.03 558.93,65.69 560.08,65.36 561.23,65.02 562.38,64.69 563.54,64.36 564.71,64.03 565.87,63.70 567.05,63.38 568.22,63.05 569.40,62.73 570.59,62.41 571.78,62.09 572.97,61.77 574.16,61.45 575.36,61.14 576.57,60.83 577.78,60.51 578.99,60.20 580.21,59.90 581.43,59.59 582.65,59.28 583.88,58.98 585.11,58.68 586.35,58.38 587.59,58.08 588.84,57.78 590.09,57.49 591.34,57.19 592.60,56.90 593.86,56.61 595.12,56.32 596.39,56.04 597.67,55.75 598.94,55.47 600.23,55.19 601.51,54.91 602.80,54.63 604.09,54.35 605.39,54.08 606.69,53.81 608.00,53.53 609.31,53.26 610.62,53.00 611.94,52.73 613.26,52.47 614.58,52.20 615.91,51.94 617.25,51.68 618.58,51.42 619.93,51.17 621.27,50.91 622.62,50.66 623.97,50.41 625.33,50.16 626.69,49.91 628.06,49.67 629.43,49.42 630.80,49.18 632.17,48.94 633.56,48.70 634.94,48.46 636.33,48.23 637.72,47.99 639.12,47.76 640.52,47.53 641.92,47.30 643.33,47.07 644.74,46.85 646.16,46.62 647.58,46.40 649.00,46.18 650.43,45.96 651.86,45.74 653.30,45.53 654.74,45.31 656.18,45.10 657.63,44.89 659.08,44.68 660.53,44.47"/>
<polyline stroke="#d62728" points="417.70,276.87 417.70,276.83 417.71,276.73 417.72,276.57 417.73,276.37 417.75,276.11 417.77,275.82 417.79,275.49 417.81,275.11 417.84,274.70 417.87,274.25 417.90,273.76 417.93,273.24 417.97,272.68 418.00,272.09 418.04,271.47 418.09,270.82 418.13,270.14 418.18,269.42 418.22,268.68 418.28,267.92 418.33,267.12 418.38,266.30 418.44,265.45 418.50,264.58 418.56,263.69 418.62,262.77 418.69,261.83 418.75,260.87 418.82,259.89 418.89,258.89 418.97,257.86 419.04,256.82 419.12,255.77 419.20,254.69 419.28,253.60 419.36,252.49 419.44,251.37 419.53,250.24 419.62,249.09 419.70,247.93 419.80,246.75 419.89,245.57 419.98,244.37 420.08,243.16 420.18,241.95 420.28,240.72 420.38,239.49 420.48,238.24 420.59,237.00 420.70,235.74 420.80,234.48 420.91,233.22 421.03,231.95 421.14,230.67 421.26,229.39 421.37,228.11 421.49,226.83 421.61,225.54 421.74,224.26 421.86,222.97 421.98,221.68 422.11,220.39 422.24,219.10 422.37,217.82 422.50,216.53 422.64,215.25 422.77,213.97 422.91,212.69 423.05,211.42 423.19,210.15 423.33,208.88 423.47,207.61 423.62,206.36 423.77,205.10 423.92,203.86 424.07,202.61 424.22,201.38 424.37,200.15 424.52,198.93 424.68,197.71 424.84,196.50 425.00,195.30 425.16,194.10 425.32,192.92 425.49,191.74 425.65,190.57 425.82,189.41 425.99,188.26 426.16,187.12 426.33,185.98 426.50,184.86 426.68,183.74 426.85,182.64 427.03,181.54 427.21,180.46 427.39,179.38 427.57,178.32 427.76,177.26 427.94,176.22 428.13,175.18 428.32,174.16 428.51,173.15 428.70,172.14 428.89,171.15 429.09,170.17 429.28,169.20 429.48,168.24 429.68,167.29 429.88,166.36 430.08,165.43 430.29,164.51 430.49,163.61 430.70,162.71 430.91,161.83 431.12,160.96 431.33,160.09 431.54,159.24 431.75,158.40 431.97,157.57 432.18,156.75 432.40,155.94 432.62,155.14 432.84,154.35 433.06,153.58 433.29,152.81 433.51,152.05 433.74,151.30 433.97,150.57 434.20,149.84 434.43,149.12 434.66,148.41 434.89,147.72 435.13,147.03 435.37,146.35 435.60,145.68 435.84,145.02 436.08,144.37 436.33,143.72 436.57,143.09 436.81,142.47 437.06,141.85 437.31,141.24 437.56,140.65 437.81,140.06 438.06,139.47 438.31,138.90 438.57,138.33 438.83,137.78 439.08,137.23 439.34,136.68 439.60,136.15 439.86,135.62 440.13,135.10 440.39,134.59 440.66,134.08 440.93,133.58 441.19,133.09 441.46,132.60 441.74,132.13 442.01,131.65 442.28,131.19 442.56,130.73 442.83,130.27 443.11,129.83 443.39,129.38 443.67,128.95 443.96,128.52 444.24,128.09 444.52,127.67 444.81,127.26 445.10,126.85 445.39,126.45 445.68,126.05 445.97,125.65 446.26,125.26 446.56,124.88 446.85,124.50 447.15,124.12 447.45,123.75 447.75,123.39 448.05,123.02 448.35,122.66 448.66,122.31 448.96,121.96 449.27,121.61 449.58,121.27 449.88,120.93 450.20,120.59 450.51,120.26 450.82,119.93 451.13,119.61 451.45,119.28 451.77,118.96 452.09,118.65 452.41,118.34 452.73,118.02 453.05,117.72 453.37,117.41 453.70,117.11 454.02,116.81 454.35,116.52 454.68,116.22 455.01,115.93 455.34,115.64 455.67,115.35 456.01,115.07 456.34,114.79 456.68,114.51 457.02,114.23 457.36,113.95 457.70,113.68 458.04,113.41 458.38,113.14 458.73,112.87 459.07,112.60 459.42,112.34 459.77,112.07 460.12,111.81 460.47,111.55 460.82,111.30 461.18,111.04 461.53,110.78 461.89,110.53 462.24,110.28 462.60,110.03 462.96,109.78 463.32,109.53 463.69,109.29 464.05,109.04 464.41,108.80 464.78,108.56 465.15,108.31 465.52,108.07 465.89,107.84 466.26,107.60 466.63,107.36 467.00,107.13 467.38,106.89 467.76,106.66 468.13,106.43 468.51,106.20 468.89,105.97 469.27,105.74 469.66,105.51 470.04,105.28 470.43,105.05 470.81,104.83 471.20,104.60 471.59,104.38 471.98,104.16 472.37,103.94 472.76,103.71 473.16,103.49 473.55,103.27 473.95,103.06 474.35,102.84 474.74,102.62 475.14,102.40 475.55,102.19 475.95,101.97 476.35,101.76 476.76,101.55 477.16,101.33 477.57,101.12 477.98,100.91 478.39,100.70 478.80,100.49 479.21,100.28 479.63,100.07 480.04,99.87 480.46,99.66 480.88,99.45 481.30,99.25 481.72,99.04 482.14,98.84 482.56,98.64 482.98,98.43 483.41,98.23 483.83,98.03 484.26,97.83 484.69,97.63 485.12,97.43 485.55,97.23 485.98,97.03 486.42,96.83 486.85,96.64 487.29,96.44 487.72,96.24 488.16,96.05 488.60,95.85 489.04,95.66 489.48,95.47 489.93,95.27 490.37,95.08 490.82,94.89 491.26,94.70 491.71,94.51 492.16,94.32 492.61,94.13 493.06,93.94"/>
<polyline stroke="#9467bd" points="417.70,255.10 417.71,255.01 417.72,254.79 417.75,254.45 417.78,254.01 417.82,253.47 417.87,252.85 417.92,252.14 417.98,251.34 418.05,250.47 418.12,249.53 418.20,248.52 418.29,247.44 418.38,246.30 418.47,245.10 418.58,243.84 418.68,242.54 418.80,241.18 418.92,239.77 419.04,238.33 419.17,236.84 419.31,235.31 419.45,233.76 419.59,232.17 419.74,230.55 419.90,228.90 420.06,227.24 420.23,225.55 420.40,223.85 420.57,222.13 420.75,220.39 420.94,218.65 421.13,216.90 421.32,215.15 421.52,213.39 421.73,211.63 421.94,209.88 422.15,208.12 422.37,206.37 422.59,204.63 422.82,202.90 423.06,201.17 423.29,199.46 423.54,197.76 423.78,196.07 424.03,194.40 424.29,192.75 424.55,191.11 424.81,189.50 425.08,187.90 425.36,186.32 425.63,184.77 425.92,183.23 426.20,181.72 426.49,180.24 426.79,178.77 427.09,177.33 427.39,175.92 427.70,174.53 428.01,173.17 428.33,171.83 428.65,170.51 428.98,169.23 429.30,167.96 429.64,166.73 429.98,165.52 430.32,164.33 430.66,163.17 431.01,162.03 431.37,160.92 431.73,159.83 432.09,158.77 432.46,157.73 432.83,156.71 433.20,155.72 433.58,154.75 433.97,153.80 434.35,152.87 434.74,151.96 435.14,151.08 435.54,150.21 435.94,149.37 436.35,148.54 436.76,147.73 437.18,146.94 437.60,146.17 438.02,145.41 438.45,144.68 438.88,143.95 439.31,143.25 439.75,142.56 440.20,141.88 440.64,141.22 441.09,140.57 441.55,139.93 442.01,139.31 442.47,138.69 442.94,138.09 443.41,137.50 443.88,136.93 444.36,136.36 444.84,135.80 445.32,135.25 445.81,134.71 446.31,134.18 446.80,133.65 447.31,133.14 447.81,132.63 448.32,132.13 448.83,131.63 449.35,131.14 449.87,130.66 450.39,130.18 450.92,129.71 451.45,129.25 451.98,128.79 452.52,128.33 453.06,127.88 453.61,127.43 454.16,126.99 454.71,126.55 455.27,126.11 455.83,125.68 456.39,125.25 456.96,124.82 457.53,124.39 458.11,123.97 458.69,123.55 459.27,123.14 459.86,122.72 460.45,122.31 461.04,121.90 461.64,121.49 462.24,121.08 462.85,120.67 463.45,120.27 464.07,119.87 464.68,119.47 465.30,119.07 465.92,118.67 466.55,118.27 467.18,117.87 467.81,117.48 468.45,117.08 469.09,116.69 469.73,116.29 470.38,115.90 471.03,115.51 471.69,115.12 472.35,114.73 473.01,114.34 473.67,113.95 474.34,113.57 475.01,113.18 475.69,112.79 476.37,112.41 477.05,112.02 477.74,111.64 478.43,111.25 479.12,110.87 479.82,110.49 480.52,110.11 481.23,109.73 481.93,109.35 482.64,108.97 483.36,108.59 484.08,108.21 484.80,107.83 485.52,107.45 486.25,107.08 486.98,106.70 487.72,106.32 488.46,105.95 489.20,105.57 489.95,105.20 490.69,104.83 491.45,104.46 492.20,104.09 492.96,103.71 493.73,103.34 494.49,102.98 495.26,102.61 496.03,102.24 496.81,101.87 497.59,101.51 498.37,101.14 499.16,100.78 499.95,100.42 500.74,100.05 501.54,99.69 502.34,99.33 503.14,98.97 503.95,98.61 504.76,98.25 505.57,97.90 506.39,97.54 507.21,97.19 508.04,96.83 508.86,96.48 509.69,96.13 510.53,95.78 511.36,95.43 512.20,95.08 513.05,94.73 513.90,94.38 514.75,94.04 515.60,93.69 516.46,93.35 517.32,93.01 518.18,92.67 519.05,92.33 519.92,91.99 520.79,91.65 521.67,91.32 522.55,90.98 523.43,90.65 524.32,90.31 525.21,89.98 526.10,89.65 527.00,89.32 527.90,89.00 528.80,88.67 529.71,88.34 530.62,88.02 531.53,87.70 532.45,87.38 533.37,87.06 534.29,86.74 535.22,86.42 536.15,86.11 537.08,85.79 538.02,85.48 538.96,85.17 539.90,84.86 540.84,84.55 541.79,84.24 542.74,83.93 543.70,83.63 544.66,83.32 545.62,83.02 546.58,82.72 547.55,82.42 548.52,82.12 549.50,81.83 550.48,81.53 551.46,81.24 552.44,80.95 553.43,80.66 554.42,80.37 555.41,80.08 556.41,79.79 557.41,79.51 558.42,79.22 559.42,78.94 560.43,78.66 561.45,78.38 562.46,78.11 563.48,77.83 564.50,77.56 565.53,77.28 566.56,77.01 567.59,76.74 568.63,76.47 569.66,76.20 570.71,75.94 571.75,75.68 572.80,75.41 573.85,75.15 574.90,74.89 575.96,74.63 577.02,74.38 578.09,74.12 579.15,73.87 580.22,73.62 581.30,73.37 582.37,73.12 583.45,72.87 584.53,72.62 585.62,72.38 586.71,72.14 587.80,71.90 588.90,71.66 589.99,71.42 591.10,71.18 592.20,70.94 593.31,70.71 594.42,70.48 595.53,70.25 596.65,70.02 597.77,69.79 598.89,69.56 600.02,69.34 601.15,69.12 602.28,68.89 603.42,68.67 604.55,68.45 605.70,68.24 606.84,68.02 607.99,67.81 609.14,67.59 610.29,67.38"/>
</g>
<rect x="405.2" y="29.5" width="276.40" height="259.20" fill="none" stroke="#000" stroke-width="1.2"/>
<line x1="417.70" y1="288.7" x2="417.70" y2="293.60" stroke="#000" stroke-width="1.2"/>
<text x="417.70" y="306.6" font-size="10.3" text-anchor="middle">0</text>
<line x1="470.03" y1="288.7" x2="470.03" y2="293.60" stroke="#000" stroke-width="1.2"/>
<text x="470.03" y="306.6" font-size="10.3" text-anchor="middle">5</text>
<line x1="522.37" y1="288.7" x2="522.37" y2="293.60" stroke="#000" stroke-width="1.2"/>
<text x="522.37" y="306.6" font-size="10.3" text-anchor="middle">10</text>
<line x1="574.70" y1="288.7" x2="574.70" y2="293.60" stroke="#000" stroke-width="1.2"/>
<text x="574.70" y="306.6" font-size="10.3" text-anchor="middle">15</text>
<line x1="627.04" y1="288.7" x2="627.04" y2="293.60" stroke="#000" stroke-width="1.2"/>
<text x="627.04" y="306.6" font-size="10.3" text-anchor="middle">20</text>
<line x1="679.38" y1="288.7" x2="679.38" y2="293.60" stroke="#000" stroke-width="1.2"/>
<text x="679.38" y="306.6" font-size="10.3" text-anchor="middle">25</text>
<line x1="399.90" y1="284.30" x2="405.2" y2="284.30" stroke="#000" stroke-width="1.2"/>
<text x="395.3" y="289" font-size="10.3" text-anchor="end">0.025</text>
<line x1="399.90" y1="246.77" x2="405.2" y2="246.77" stroke="#000" stroke-width="1.2"/>
<text x="395.3" y="251" font-size="10.3" text-anchor="end">0.050</text>
<line x1="399.90" y1="209.25" x2="405.2" y2="209.25" stroke="#000" stroke-width="1.2"/>
<text x="395.3" y="214" font-size="10.3" text-anchor="end">0.075</text>
<line x1="399.90" y1="171.72" x2="405.2" y2="171.72" stroke="#000" stroke-width="1.2"/>
<text x="395.3" y="176" font-size="10.3" text-anchor="end">0.100</text>
<line x1="399.90" y1="134.19" x2="405.2" y2="134.19" stroke="#000" stroke-width="1.2"/>
<text x="395.3" y="138" font-size="10.3" text-anchor="end">0.125</text>
<line x1="399.90" y1="96.66" x2="405.2" y2="96.66" stroke="#000" stroke-width="1.2"/>
<text x="395.3" y="101" font-size="10.3" text-anchor="end">0.150</text>
<line x1="399.90" y1="59.13" x2="405.2" y2="59.13" stroke="#000" stroke-width="1.2"/>
<text x="395.3" y="63" font-size="10.3" text-anchor="end">0.175</text>
<text x="543.40" y="321.4" font-size="10.3" text-anchor="middle">Time (h)</text>
<g transform="translate(359.5,159.4) rotate(-90)"><text font-size="10.3" xml:space="preserve"><tspan x="-72.7" y="0">Normalized consumed </tspan><tspan x="32.63" y="0.00">K</tspan><tspan x="39.61" y="1.70" font-size="7.3">2</tspan><tspan x="44.41" y="0.00">C</tspan><tspan x="51.45" y="0.00">r</tspan><tspan x="55.56" y="1.70" font-size="7.3">2</tspan><tspan x="60.14" y="0.00">O</tspan><tspan x="68.70" y="1.70" font-size="7.3">7</tspan></text></g>
<rect x="484.1" y="198.6" width="192" height="84.4" rx="2.8" fill="#fff" fill-opacity="0.8" stroke="#cccccc" stroke-width="1.2"/>
<line x1="486.1" y1="206.5" x2="511" y2="206.5" stroke="#1f77b4" stroke-width="4.3"/>
<text x="517.2" y="210.3" font-size="10.3">Computational</text>
<line x1="488.0" y1="222.3" x2="511" y2="222.3" stroke="#ff7f0e" stroke-width="2.1" stroke-dasharray="8.4,3.6"/>
<text font-size="10.3" xml:space="preserve"><tspan x="517.2" y="225">0.2 mM BQDS</tspan><tspan x="589.30" y="225">0.4 mM </tspan><tspan x="626.50" y="225.00">K</tspan><tspan x="633.48" y="226.40" font-size="7.3">2</tspan><tspan x="638.28" y="225.00">C</tspan><tspan x="645.32" y="225.00">r</tspan><tspan x="649.43" y="226.40" font-size="7.3">2</tspan><tspan x="654.01" y="225.00">O</tspan><tspan x="662.57" y="226.40" font-size="7.3">7</tspan></text>
<line x1="488.0" y1="239.2" x2="511" y2="239.2" stroke="#2ca02c" stroke-width="2.1" stroke-dasharray="8.4,3.6"/>
<text font-size="10.3" xml:space="preserve"><tspan x="517.2" y="242">0.25 mM BQDS</tspan><tspan x="595.03" y="242">0.4 mM </tspan><tspan x="632.23" y="242.00">K</tspan><tspan x="639.21" y="243.40" font-size="7.3">2</tspan><tspan x="644.01" y="242.00">C</tspan><tspan x="651.05" y="242.00">r</tspan><tspan x="655.16" y="243.40" font-size="7.3">2</tspan><tspan x="659.74" y="242.00">O</tspan><tspan x="668.30" y="243.40" font-size="7.3">7</tspan></text>
<line x1="488.0" y1="256.25" x2="511" y2="256.25" stroke="#d62728" stroke-width="2.1" stroke-dasharray="8.4,3.6"/>
<text font-size="10.3" xml:space="preserve"><tspan x="517.2" y="259">0.2 mM BQDS</tspan><tspan x="589.30" y="259">0.5 mM </tspan><tspan x="626.50" y="259.00">K</tspan><tspan x="633.48" y="260.40" font-size="7.3">2</tspan><tspan x="638.28" y="259.00">C</tspan><tspan x="645.32" y="259.00">r</tspan><tspan x="649.43" y="260.40" font-size="7.3">2</tspan><tspan x="654.01" y="259.00">O</tspan><tspan x="662.57" y="260.40" font-size="7.3">7</tspan></text>
<line x1="488.0" y1="272.9" x2="511" y2="272.9" stroke="#9467bd" stroke-width="2.1" stroke-dasharray="8.4,3.6"/>
<text font-size="10.3" xml:space="preserve"><tspan x="517.2" y="275">0.3 mM BQDS</tspan><tspan x="589.30" y="275">0.5 mM </tspan><tspan x="626.50" y="275.00">K</tspan><tspan x="633.48" y="276.40" font-size="7.3">2</tspan><tspan x="638.28" y="275.00">C</tspan><tspan x="645.32" y="275.00">r</tspan><tspan x="649.43" y="276.40" font-size="7.3">2</tspan><tspan x="654.01" y="275.00">O</tspan><tspan x="662.57" y="276.40" font-size="7.3">7</tspan></text>
</svg></body></html>
